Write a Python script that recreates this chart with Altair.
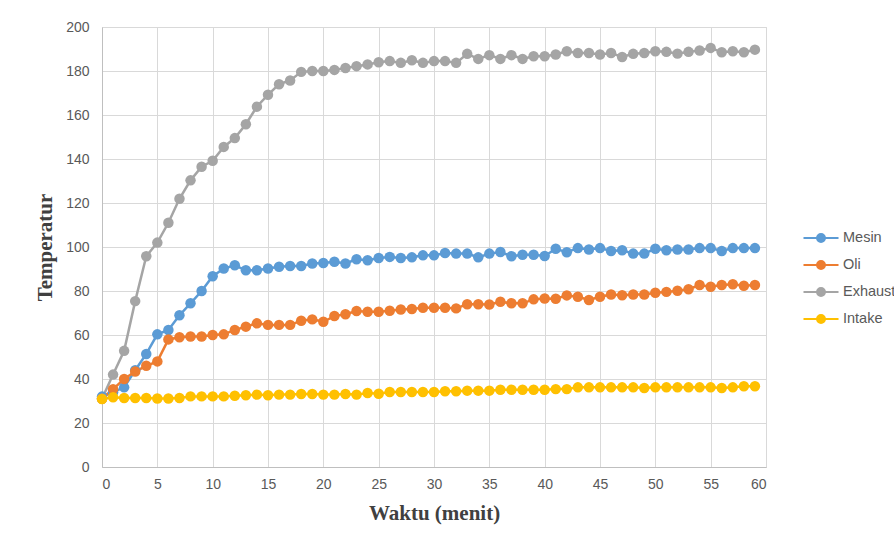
import altair as alt
import pandas as pd

minutes = list(range(60))
series_names = ["Mesin", "Oli", "Exhaust", "Intake"]
series_colors = ["#5B9BD5", "#ED7D31", "#A5A5A5", "#FFC000"]

mesin = [32, 34, 36.2, 44, 51.4, 60.3, 62.3, 69, 74.4, 80,
         86.7, 90.2, 91.7, 89.4, 89.4, 90.2, 91, 91.4, 91.4, 92.5,
         92.7, 93.3, 92.5, 94.4, 94, 95, 95.5, 95, 95.3, 96.2,
         96.2, 97.3, 97, 97, 95.3, 97, 97.7, 95.8, 96.5, 96.5,
         95.9, 99.2, 97.6, 99.5, 98.9, 99.5, 98.2, 98.5, 97, 97,
         99.2, 98.5, 98.9, 98.9, 99.5, 99.5, 98.2, 99.5, 99.5, 99.5]
oli = [31, 35.4, 40, 43.4, 46, 48, 58, 59, 59.3, 59.3,
       60, 60.3, 62.3, 63.8, 65.3, 64.6, 64.6, 64.6, 66.5, 67.1,
       66, 68.6, 69.4, 70.9, 70.6, 70.6, 71, 71.6, 71.8, 72.4,
       72.4, 72.4, 72.1, 74, 74, 73.9, 75.1, 74.4, 74.4, 76.2,
       76.6, 76.5, 78, 77.4, 75.9, 77.4, 78.4, 78.1, 78.4, 78.4,
       79.2, 79.6, 80.1, 80.8, 82.7, 81.9, 82.7, 83.1, 82.4, 82.7]
exhaust = [31, 42, 52.8, 75.4, 95.8, 102, 111, 121.9, 130.3, 136.5,
           139.2, 145.5, 149.5, 155.8, 163.8, 169.2, 174, 175.7, 179.6, 180,
           180, 180.5, 181.4, 182.2, 183, 184, 184.5, 183.7, 184.9, 183.7,
           184.5, 184.5, 183.7, 187.8, 185.5, 187.2, 185.5, 187.2, 185.5, 186.7,
           186.7, 187.5, 189, 188.2, 188.2, 187.5, 188.2, 186.4, 187.8, 188.2,
           189, 188.7, 187.9, 188.7, 189.3, 190.5, 188.5, 189, 188.5, 189.7]
intake = [30.9, 31.7, 31.4, 31.4, 31.4, 31.1, 31.1, 31.4, 32.1, 32.1,
          32.1, 32.1, 32.4, 32.6, 32.9, 32.6, 32.9, 32.9, 33.2, 33.2,
          32.9, 32.9, 33.2, 32.9, 33.6, 33.3, 34.1, 34.1, 34.1, 34.1,
          34.1, 34.4, 34.4, 34.7, 34.7, 34.7, 35.1, 35.1, 35.1, 35.1,
          35.1, 35.4, 35.4, 36.2, 36.2, 36.2, 36.2, 36.2, 36.2, 35.9,
          36.2, 36.2, 36.2, 36.2, 36.2, 36.2, 35.9, 36.2, 36.7, 36.7]

rows = []
for i, (name, vals) in enumerate(zip(series_names, [mesin, oli, exhaust, intake])):
    for m, v in zip(minutes, vals):
        rows.append({"Waktu": m, "Temperatur": v, "Seri": name, "ord": i})
df = pd.DataFrame(rows)

LABEL_FONT = "Liberation Sans"
TITLE_FONT = "Liberation Serif"
GRAY = "#595959"

color = alt.Color(
    "Seri:N",
    scale=alt.Scale(domain=series_names, range=series_colors),
    sort=series_names,
    legend=alt.Legend(
        title=None,
        orient="none",
        legendX=706,
        legendY=198,
        symbolType="M-1.5,0H1.5M-0.34,0A0.34,0.34,0,1,1,0.34,0A0.34,0.34,0,1,1,-0.34,0Z",
        symbolSize=545,
        symbolStrokeWidth=2,
        labelFont=LABEL_FONT,
        labelFontSize=14.5,
        labelColor=GRAY,
        rowPadding=6,
        labelOffset=9,
    ),
)

x = alt.X(
    "Waktu:Q",
    scale=alt.Scale(domain=[0, 60], nice=False),
    axis=alt.Axis(
        title="Waktu (menit)",
        values=list(range(0, 61, 5)),
        ticks=False,
        labelPadding=10,
        titlePadding=11,
        gridColor="#D9D9D9",
        domainColor="#BFBFBF",
    ),
)
y = alt.Y(
    "Temperatur:Q",
    scale=alt.Scale(domain=[0, 200], nice=False),
    axis=alt.Axis(
        title="Temperatur",
        values=list(range(0, 201, 20)),
        ticks=False,
        labelPadding=13,
        titlePadding=10,
        gridColor="#D9D9D9",
        domainColor="#BFBFBF",
    ),
)

base = alt.Chart(df)
lines = base.mark_line(strokeWidth=2.5).encode(x=x, y=y, color=color, detail="Seri:N", order="Waktu:Q")
points = base.mark_point(filled=True, size=110, opacity=1).encode(
    x=x, y=y, color=color, order="ord:Q"
)

chart = (
    alt.layer(lines, points)
    .properties(
        width=664,
        height=440,
        autosize=alt.AutoSizeParams(type="none"),
        padding={"left": 102, "top": 27, "right": 128, "bottom": 67},
        background="white",
    )
    .configure_view(stroke="#D9D9D9")
    .configure_axis(
        labelFont=LABEL_FONT,
        labelFontSize=14,
        labelColor=GRAY,
        titleFont=TITLE_FONT,
        titleFontSize=21,
        titleFontWeight="bold",
        titleColor="#404040",
        domainWidth=1,
        gridWidth=1,
    )
)

chart.save("out.html", embed_options={"renderer": "svg", "actions": False})
